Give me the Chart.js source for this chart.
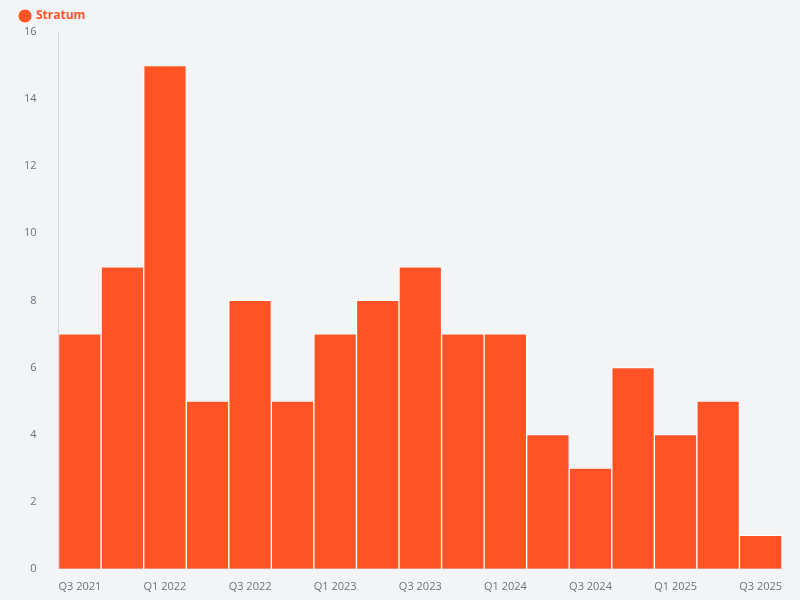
<!DOCTYPE html>
<html>
<head>
<meta charset="utf-8">
<script src="https://cdn.jsdelivr.net/npm/chart.js@4"></script>
<style>
  html, body { margin: 0; padding: 0; background: #f3f4f6; }
  #wrap { width: 800px; height: 600px; }
</style>
</head>
<body>
<div id="wrap"><canvas id="chart"></canvas></div>
<script>
// Dados do gráfico
const quarters = ['Q3 2021', 'Q4 2021', 'Q1 2022', 'Q2 2022', 'Q3 2022', 'Q4 2022',
    'Q1 2023', 'Q2 2023', 'Q3 2023', 'Q4 2023', 'Q1 2024', 'Q2 2024', 'Q3 2024',
    'Q4 2024', 'Q1 2025', 'Q2 2025', 'Q3 2025'];
const stratum = [7, 9, 15, 5, 8, 5, 7, 8, 9, 7, 7, 4, 3, 6, 4, 5, 1];
const yTicks = [0, 2, 4, 6, 8, 10, 12, 14, 16];

const orange = '#ff5326';

new Chart(document.getElementById('chart'), {
    type: 'bar',
    data: {
        labels: quarters,
        datasets: [{
            label: 'Stratum',
            data: stratum,
            backgroundColor: orange,
            borderColor: '#ffffff',
            borderWidth: 1,
            barPercentage: 1,
            categoryPercentage: 1
        }]
    },
    options: {
        responsive: true,
        maintainAspectRatio: false,
        animation: false,
        layout: { padding: { left: 10, right: 18, top: 0, bottom: 4 } },
        plugins: {
            legend: {
                position: 'top',
                align: 'start',
                labels: {
                    usePointStyle: true,
                    pointStyle: 'circle',
                    boxWidth: 10,
                    boxHeight: 10,
                    color: orange,
                    font: { family: 'Open Sans', size: 12, weight: 'bold' }
                }
            },
            tooltip: { enabled: false }
        },
        scales: {
            x: {
                grid: { display: false },
                border: { color: '#d1d5db' },
                ticks: {
                    color: '#6b7280',
                    font: { family: 'Open Sans', size: 11 },
                    maxRotation: 0,
                    autoSkip: false,
                    callback: function(v, i) { return i % 2 === 0 ? quarters[i] : ''; }
                }
            },
            y: {
                min: 0,
                max: 16,
                afterBuildTicks: function(axis) { axis.ticks = yTicks.map(v => ({ value: v })); },
                grid: { display: false },
                border: { color: '#d1d5db' },
                ticks: {
                    color: '#6b7280',
                    font: { family: 'Open Sans', size: 11 },
                    padding: 14
                }
            }
        }
    }
});
</script>
</body>
</html>
